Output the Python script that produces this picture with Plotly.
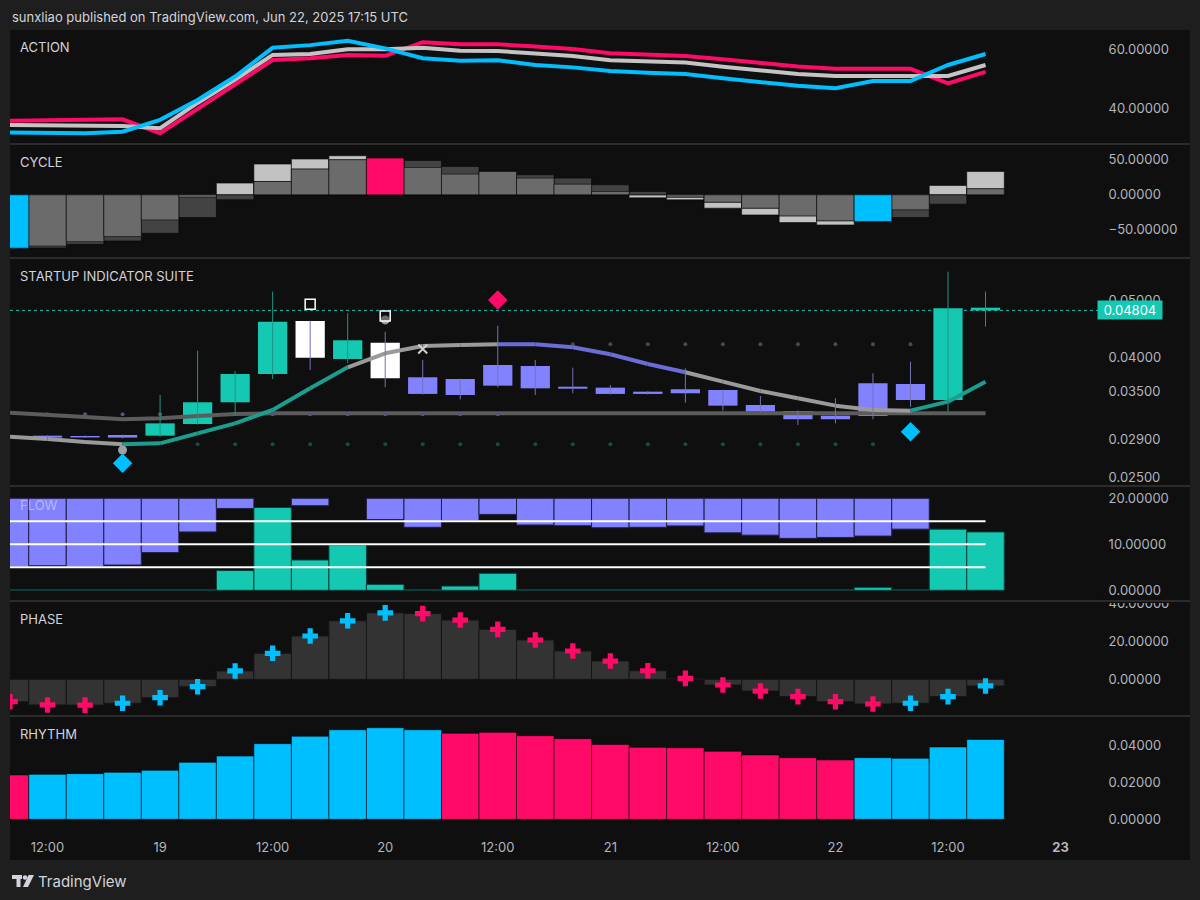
import math
from datetime import datetime, timedelta
import plotly.graph_objects as go

# ---------------- DATA ----------------
bar_times = [
    "2025-06-18 08:00", "2025-06-18 12:00", "2025-06-18 16:00", "2025-06-18 20:00",
    "2025-06-19 00:00", "2025-06-19 04:00", "2025-06-19 08:00", "2025-06-19 12:00",
    "2025-06-19 16:00", "2025-06-19 20:00", "2025-06-20 00:00", "2025-06-20 04:00",
    "2025-06-20 08:00", "2025-06-20 12:00", "2025-06-20 16:00", "2025-06-20 20:00",
    "2025-06-21 00:00", "2025-06-21 04:00", "2025-06-21 08:00", "2025-06-21 12:00",
    "2025-06-21 16:00", "2025-06-21 20:00", "2025-06-22 00:00", "2025-06-22 04:00",
    "2025-06-22 08:00", "2025-06-22 12:00", "2025-06-22 16:00",
]
tick_times = ["2025-06-18 12:00", "2025-06-19 00:00", "2025-06-19 12:00", "2025-06-20 00:00",
              "2025-06-20 12:00", "2025-06-21 00:00", "2025-06-21 12:00", "2025-06-22 00:00",
              "2025-06-22 12:00", "2025-06-23 00:00"]
tick_labels = ["12:00", "19", "12:00", "20", "12:00", "21", "12:00", "22", "12:00", "<b>23</b>"]

# ACTION pane
action_fast = [31.8, 31.7, 31.6, 32.1, 36.1, 42.8, 50.7, 60.4, 61.3, 62.8, 60.2, 56.9, 56.0, 56.2,
               54.6, 53.8, 52.6, 52.0, 51.6, 50.1, 48.9, 47.6, 46.8, 49.2, 49.2, 54.6, 58.3]
action_mid = [34.4, 34.2, 34.0, 34.0, 33.3, 41.8, 49.7, 58.0, 58.3, 59.9, 59.9, 60.4, 59.4, 59.3,
              58.5, 57.6, 56.2, 55.7, 55.4, 54.0, 52.8, 51.6, 50.9, 50.9, 50.9, 50.9, 54.6]
action_slow = [35.8, 35.9, 36.1, 36.3, 31.6, 39.8, 47.9, 56.3, 56.9, 58.0, 57.7, 62.3, 61.6, 61.6,
               60.8, 60.0, 58.6, 58.2, 57.6, 56.5, 55.3, 54.1, 53.3, 53.3, 53.3, 48.4, 52.3]
action_ticks = [40, 60]

# CYCLE pane
cycle_a = [-76, -73, -66.7, -59.5, -35.7, -3.5, 16.7, 43.8, 51, 55.7, 52.4, 39, 29.5, 33.3,
           23.8, 15.2, 4.8, -4.3, -7.1, -19, -28.6, -39.5, -42.9, -38, -21.4, 13.3, 33.3]
cycle_b = [-76, -75.7, -70.5, -65.7, -54.8, -32.4, -7, 19, 36.7, 50, 52.4, 49, 40.5, 33.3,
           28.6, 23.8, 14.3, 4.8, -3.3, -10.5, -19, -30, -37, -38, -32.4, -13.3, 8.6]
cycle_signal = [1, 0, 0, 0, 0, 0, 0, 0, 0, 0, -1, 0, 0, 0, 0, 0, 0, 0, 0, 0, 0, 0, 0, 1, 0, 0, 0]
cycle_ticks = [-50, 0, 50]

# STARTUP INDICATOR SUITE pane (price, log scale)
c_open = [0.02935, 0.02946, 0.02942, 0.02954, 0.02946, 0.03083, 0.03356, 0.03748, 0.04609,
          0.03974, 0.04235, 0.03700, 0.03675, 0.03882, 0.03867, 0.03566, 0.03553, 0.03498,
          0.03531, 0.03521, 0.03321, 0.03244, 0.03185, 0.03614, 0.03604, 0.03386, 0.04804]
c_high = [0.02940, 0.02950, 0.02948, 0.02958, 0.03453, 0.04105, 0.03790, 0.05168, 0.04615,
          0.04750, 0.04421, 0.03959, 0.03680, 0.04525, 0.03959, 0.03842, 0.03590, 0.03505,
          0.03832, 0.03525, 0.03439, 0.03248, 0.03409, 0.03758, 0.03932, 0.05587, 0.05168]
c_low = [0.02922, 0.02918, 0.02920, 0.02915, 0.02934, 0.03075, 0.03193, 0.03675, 0.03807,
         0.03912, 0.03558, 0.03460, 0.03395, 0.03558, 0.03453, 0.03476, 0.03460, 0.03460,
         0.03351, 0.03248, 0.03230, 0.03071, 0.03091, 0.03141, 0.03298, 0.03235, 0.04508]
c_close = [0.02928, 0.02924, 0.02926, 0.02924, 0.03091, 0.03356, 0.03748, 0.04597, 0.03994,
           0.04275, 0.03685, 0.03467, 0.03453, 0.03581, 0.03544, 0.03539, 0.03467, 0.03467,
           0.03476, 0.03312, 0.03235, 0.03141, 0.03141, 0.03181, 0.03386, 0.04844, 0.04855]
candle_state = ["bear", "bear", "bear", "bear", "bull", "bull", "bull", "bull", "flag", "bull",
                "flag", "bear", "bear", "bear", "bear", "bear", "bear", "bear", "bear", "bear",
                "bear", "bear", "bear", "bear", "bear", "bull", "bull"]
trend_line = [0.02934, 0.02908, 0.02874, 0.02848, 0.02859, 0.02973, 0.03091, 0.03257, 0.03544,
              0.03847, 0.04063, 0.04180, 0.04197, 0.04209, 0.04209, 0.04160, 0.04047, 0.03897,
              0.03773, 0.03637, 0.03507, 0.03409, 0.03312, 0.03257, 0.03248, 0.03364, 0.03637]
trend_state = [0, 0, 0, 0, 1, 1, 1, 1, 1, 1, 0, 0, 0, 0, -1, -1, -1, -1, -1, 0, 0, 0, 0, 0, 0, 1, 1]
base_line = [0.03222, 0.03200, 0.03170, 0.03141, 0.03153, 0.03181, 0.03205, 0.03215, 0.03215,
             0.03215, 0.03215, 0.03215, 0.03215, 0.03215, 0.03215, 0.03215, 0.03215, 0.03215,
             0.03215, 0.03215, 0.03215, 0.03215, 0.03215, 0.03215, 0.03215, 0.03215, 0.03215]
mid_dots_idx = [1, 2, 3, 4, 7, 8, 9, 10, 11, 12, 13]
mid_dots_level = 0.03202
upper_dots_idx = [15, 16, 17, 18, 19, 20, 21, 22, 23, 24]
upper_dots_level = 0.04209
lower_dots_idx = [5, 6, 7, 8, 9, 10, 11, 12, 13, 14, 15, 16, 17, 18, 19, 20, 21, 22, 23]
lower_dots_level = 0.02848
bull_diamond_idx = [3, 24]
bull_diamond_px = [0.02645, 0.02992]
bear_diamond_idx = [13]
bear_diamond_px = [0.05003]
square_idx = [8, 10]
square_px = [0.04920, 0.04700]
circle_idx = [3, 10]
circle_px = [0.02786, 0.04628]
xmark_idx = [11]
xmark_px = [0.04132]
last_price = 0.04804
price_ticks = [0.025, 0.029, 0.035, 0.04, 0.05]

# FLOW pane
flow_bull = [0.15, 0.15, 0.15, 0.15, 0.15, 0.15, 4.3, 18.0, 6.6, 9.85, 1.3, 0.15, 0.93, 3.7,
             0.15, 0.15, 0.15, 0.15, 0.15, 0.15, 0.15, 0.15, 0.15, 0.65, 0.15, 13.3, 12.7]
flow_bear = [14.9, 14.65, 14.9, 14.5, 11.8, 7.3, 2.2, 0, 1.6, 0, 4.6, 6.3, 4.9, 3.5,
             5.8, 5.95, 6.4, 6.3, 6.0, 7.5, 8.0, 8.7, 8.5, 8.2, 6.7, 0, 0]
flow_ceiling = 20
flow_levels = [15, 10, 5]
flow_ticks = [0, 10, 20]

# PHASE pane
phase_values = [-11.8, -13.5, -13.6, -12.6, -9.7, -3.9, 4.4, 13.7, 22.8, 30.8, 35.0, 34.6, 31.2,
                26.3, 20.7, 14.9, 9.6, 4.5, 0.5, -3.0, -6.2, -9.1, -11.8, -13.0, -12.6, -9.1, -3.5]
phase_ticks = [0, 20, 40]

# RHYTHM pane
rhythm_values = [0.0240, 0.0243, 0.0247, 0.0254, 0.0265, 0.0308, 0.0342, 0.0409, 0.0449, 0.0484,
                 0.0495, 0.0484, 0.0465, 0.0470, 0.0452, 0.0436, 0.0405, 0.0389, 0.0387, 0.0368,
                 0.0348, 0.0333, 0.0321, 0.0333, 0.0330, 0.0391, 0.0432]
rhythm_state = [-1, 1, 1, 1, 1, 1, 1, 1, 1, 1, 1, 1, -1, -1, -1, -1, -1, -1, -1, -1, -1, -1, -1,
                1, 1, 1, 1]
rhythm_ticks = [0.0, 0.02, 0.04]

# ---------------- STYLE / GEOMETRY ----------------
W, H = 1200, 900
ML, MR, MT, MB = 10, 100, 30, 40
PW, PH = W - ML - MR, H - MT - MB
FONT = "Inter"
TXT = "#d1d4dc"
AXT = "#b2b5be"
CYAN = "#00bfff"
PINK = "#ff0a68"
TEAL = "#14c8b2"
PURPLE = "#8282ff"
BG = "#0f0f0f"
OUTER = "#1e1e1e"


def px_x(px):
    return (px - ML) / PW


def px_y(py):
    return (H - MB - py) / PH


panes = [("ACTION", 30, 143), ("CYCLE", 145, 257), ("STARTUP INDICATOR SUITE", 259, 485),
         ("FLOW", 487, 600), ("PHASE", 602, 715), ("RHYTHM", 717, 831)]

PX_PER_HOUR = 9.38
t0 = datetime.strptime(bar_times[0], "%Y-%m-%d %H:%M")
x_left = t0
x_right = t0 + timedelta(hours=(W - MR - ML) / PX_PER_HOUR)
BAR_MS = 4 * 3600 * 1000
CANDLE_MS = BAR_MS * 0.78
N = len(bar_times)

fig = go.Figure()
common = dict(hoverinfo="skip", showlegend=False)

# ---- ACTION ----
for vals, col in [(action_slow, PINK), (action_mid, "#c4c4c4"), (action_fast, CYAN)]:
    fig.add_trace(go.Scatter(x=bar_times, y=vals, mode="lines", yaxis="y",
                             line=dict(color=col, width=4), **common))

# ---- CYCLE ----
overlap = [(a if abs(a) < abs(b) else b) if a * b > 0 else None for a, b in zip(cycle_a, cycle_b)]
bar_line = dict(color="rgba(0,0,0,0.55)", width=1)
fig.add_trace(go.Bar(x=bar_times, y=cycle_a, width=BAR_MS, yaxis="y2",
                     marker=dict(color="#c2c2c2", line=bar_line), **common))
fig.add_trace(go.Bar(x=bar_times, y=cycle_b, width=BAR_MS, yaxis="y2",
                     marker=dict(color="#434343", line=bar_line), **common))
fig.add_trace(go.Bar(x=bar_times, y=overlap, width=BAR_MS, yaxis="y2",
                     marker=dict(color="#6b6b6b", line=bar_line), **common))
hl_vals = [(a if abs(a) > abs(b) else b) if s != 0 else None
           for a, b, s in zip(cycle_a, cycle_b, cycle_signal)]
hl_cols = [CYAN if s > 0 else PINK for s in cycle_signal]
fig.add_trace(go.Bar(x=bar_times, y=hl_vals, width=BAR_MS, yaxis="y2",
                     marker=dict(color=hl_cols, line=bar_line), **common))

# ---- STARTUP INDICATOR SUITE ----
def dots(idx, level, color):
    fig.add_trace(go.Scatter(x=[bar_times[i] for i in idx], y=[level] * len(idx), mode="markers",
                             yaxis="y3", marker=dict(color=color, size=4), **common))


dots(upper_dots_idx, upper_dots_level, "#4a4a4a")
dots(lower_dots_idx, lower_dots_level, "#1d4a45")
fig.add_trace(go.Scatter(x=bar_times, y=base_line, mode="lines", yaxis="y3",
                         line=dict(color="#5c5c5c", width=4), **common))
dots(mid_dots_idx, mid_dots_level, "#55557a")

trend_colors = {0: "#9a9a9a", 1: "#1b9e8e", -1: "#6c6cd6"}
for st, col in trend_colors.items():
    xs, ys = [], []
    for i in range(1, N):
        if trend_state[i] == st:
            xs += [bar_times[i - 1], bar_times[i], None]
            ys += [trend_line[i - 1], trend_line[i], None]
    fig.add_trace(go.Scatter(x=xs, y=ys, mode="lines", yaxis="y3",
                             line=dict(color=col, width=4), **common))

fig.add_trace(go.Scatter(x=[x_left, x_right], y=[last_price, last_price], mode="lines", yaxis="y3",
                         line=dict(color=TEAL, width=1, dash="dot"), **common))

candle_colors = {"bull": (TEAL, "#1f9486"), "bear": (PURPLE, "#7373b8"), "flag": ("#ffffff", "#7373b8")}
for st, (body_col, wick_col) in candle_colors.items():
    idx = [i for i in range(N) if candle_state[i] == st]
    wx, wy = [], []
    for i in idx:
        wx += [bar_times[i], bar_times[i], None]
        wy += [c_low[i], c_high[i], None]
    fig.add_trace(go.Scatter(x=wx, y=wy, mode="lines", yaxis="y3",
                             line=dict(color=wick_col, width=1), **common))
    fig.add_trace(go.Bar(x=[bar_times[i] for i in idx],
                         y=[abs(c_close[i] - c_open[i]) for i in idx],
                         base=[min(c_open[i], c_close[i]) for i in idx],
                         width=CANDLE_MS, yaxis="y3",
                         marker=dict(color=body_col, line=dict(width=0)), **common))


def marks(idx, pxs, **mk):
    fig.add_trace(go.Scatter(x=[bar_times[i] for i in idx], y=pxs, mode="markers", yaxis="y3",
                             marker=mk, **common))


marks(circle_idx, circle_px, symbol="circle", size=9, color="#a0a0a0")
marks(square_idx, square_px, symbol="square", size=10, color="rgba(15,15,15,0.35)",
      line=dict(color="#ffffff", width=1.5))
marks(bull_diamond_idx, bull_diamond_px, symbol="diamond", size=15, color=CYAN)
marks(bear_diamond_idx, bear_diamond_px, symbol="diamond", size=15, color=PINK)
marks(xmark_idx, xmark_px, symbol="x-thin", size=9, color="#cfcfcf",
      line=dict(color="#cfcfcf", width=2))

# ---- FLOW ----
fig.add_trace(go.Bar(x=bar_times, y=[(-v if v > 0 else None) for v in flow_bear],
                     base=[flow_ceiling] * N, width=BAR_MS, yaxis="y4",
                     marker=dict(color=PURPLE, line=dict(color="#202048", width=1)), **common))
fig.add_trace(go.Bar(x=bar_times, y=flow_bull, width=BAR_MS, yaxis="y4",
                     marker=dict(color=TEAL, line=dict(color="#0b3f39", width=1)), **common))
for lv in flow_levels:
    fig.add_trace(go.Scatter(x=[bar_times[0], bar_times[-1]], y=[lv, lv], mode="lines", yaxis="y4",
                             line=dict(color="#ffffff", width=2), **common))

# ---- PHASE ----
fig.add_trace(go.Bar(x=bar_times, y=phase_values, width=BAR_MS, yaxis="y5",
                     marker=dict(color="#333333", line=dict(color="#161616", width=1)), **common))
phase_cols = [CYAN if (i > 0 and phase_values[i] > phase_values[i - 1]) else PINK for i in range(N)]
fig.add_trace(go.Scatter(x=bar_times, y=phase_values, mode="markers", yaxis="y5",
                         marker=dict(symbol="cross", size=13, color=phase_cols, line=dict(width=0)),
                         **common))

# ---- RHYTHM ----
fig.add_trace(go.Bar(x=bar_times, y=rhythm_values, width=BAR_MS, yaxis="y6",
                     marker=dict(color=[CYAN if s > 0 else PINK for s in rhythm_state],
                                 line=dict(color="rgba(0,0,0,0.55)", width=1)), **common))

# ---------------- LAYOUT ----------------
def yax(top, bot, rng, **kw):
    d = dict(domain=[px_y(bot), px_y(top)], range=rng, side="right", anchor="x",
             showgrid=False, zeroline=False, showline=False, ticks="outside", ticklen=5,
             tickcolor="rgba(0,0,0,0)", tickfont=dict(family=FONT, size=13, color=AXT),
             fixedrange=True)
    d.update(kw)
    return d


def fmt(vals):
    return [f"{v:.5f}".replace("-", "\u2212") for v in vals]


layout = dict(
    width=W, height=H, margin=dict(l=ML, r=MR, t=MT, b=MB),
    paper_bgcolor=OUTER, plot_bgcolor=BG, barmode="overlay", showlegend=False,
    hovermode=False, font=dict(family=FONT, color=TXT),
    xaxis=dict(type="date", range=[x_left, x_right], anchor="y6", showgrid=False,
               zeroline=False, showline=False, tickvals=tick_times, ticktext=tick_labels,
               ticks="outside", ticklen=4, tickcolor="rgba(0,0,0,0)",
               tickfont=dict(family=FONT, size=13, color=AXT), fixedrange=True),
    yaxis=yax(30, 143, [28.3, 66.4], tickvals=action_ticks, ticktext=fmt(action_ticks)),
    yaxis2=yax(145, 257, [-88.6, 71], tickvals=cycle_ticks, ticktext=fmt(cycle_ticks)),
    yaxis3=yax(259, 485, [-1.6144, -1.2313], type="log", tickvals=price_ticks,
               ticktext=fmt(price_ticks)),
    yaxis4=yax(487, 600, [-2.1, 22.46], tickvals=flow_ticks, ticktext=fmt(flow_ticks)),
    yaxis5=yax(602, 715, [-18.8, 40.7], tickvals=phase_ticks, ticktext=fmt(phase_ticks)),
    yaxis6=yax(717, 831, [-0.0063, 0.0553], tickvals=rhythm_ticks, ticktext=fmt(rhythm_ticks)),
)
fig.update_layout(**layout)

shapes = [dict(type="rect", xref="paper", yref="paper", x0=px_x(10), x1=px_x(1190),
               y0=px_y(860), y1=px_y(30), fillcolor=BG, line=dict(width=0), layer="below")]
for py in [144, 258, 486, 716]:
    shapes.append(dict(type="line", xref="paper", yref="paper", x0=px_x(10), x1=px_x(1190),
                       y0=px_y(py), y1=px_y(py), line=dict(color="#2b2b2b", width=2), layer="below"))
# the PHASE top label is cut by the pane border, as in the reference
shapes.append(dict(type="rect", xref="paper", yref="paper", x0=px_x(1100.5), x1=px_x(1190),
                   y0=px_y(603), y1=px_y(597), fillcolor=BG, line=dict(width=0), layer="above"))
shapes.append(dict(type="line", xref="paper", yref="paper", x0=px_x(10), x1=px_x(1190),
                   y0=px_y(601), y1=px_y(601), line=dict(color="#2b2b2b", width=2), layer="above"))
# TradingView logo
logo = "#d1d4dc"
shapes += [
    dict(type="rect", xref="paper", yref="paper", x0=px_x(12), x1=px_x(22), y0=px_y(879),
         y1=px_y(875), fillcolor=logo, line=dict(width=0)),
    dict(type="rect", xref="paper", yref="paper", x0=px_x(16.5), x1=px_x(20.5), y0=px_y(887),
         y1=px_y(875), fillcolor=logo, line=dict(width=0)),
    dict(type="circle", xref="paper", yref="paper", x0=px_x(22.8), x1=px_x(27.2), y0=px_y(879.7),
         y1=px_y(875.3), fillcolor=logo, line=dict(width=0)),
    dict(type="path", xref="paper", yref="paper",
         path=f"M {px_x(28.5)} {px_y(875)} L {px_x(34)} {px_y(875)} L {px_x(28)} {px_y(887)} "
              f"L {px_x(23)} {px_y(887)} Z", fillcolor=logo, line=dict(width=0)),
]
fig.update_layout(shapes=shapes)

ann = [dict(text="sunxliao published on TradingView.com, Jun 22, 2025 17:15 UTC", xref="paper",
            yref="paper", x=px_x(10), y=px_y(17), xanchor="left", yanchor="middle",
            showarrow=False, font=dict(family=FONT, size=13, color=TXT)),
       dict(text="TradingView", xref="paper", yref="paper", x=px_x(36), y=px_y(881),
            xanchor="left", yanchor="middle", showarrow=False,
            font=dict(family=FONT, size=15, color=TXT))]
label_y = {"ACTION": 47, "CYCLE": 162, "STARTUP INDICATOR SUITE": 276, "FLOW": 505,
           "PHASE": 619, "RHYTHM": 734}
for name, top, bot in panes:
    col = "rgba(235,235,255,0.5)" if name == "FLOW" else TXT
    ann.append(dict(text=name, xref="paper", yref="paper", x=px_x(18), y=px_y(label_y[name]),
                    xanchor="left", yanchor="middle", showarrow=False,
                    font=dict(family=FONT, size=13, color=col)))
ann.append(dict(text=f"{last_price:.5f}", xref="paper", yref="y3", x=px_x(1097),
                y=math.log10(last_price), xanchor="left", yanchor="middle", showarrow=False,
                width=60, height=14, align="center",
                bgcolor=TEAL, borderpad=2, font=dict(family=FONT, size=13, color="#ffffff")))
fig.update_layout(annotations=ann)

fig.write_html("out.html", config={"displayModeBar": False, "staticPlot": True},
               post_script="document.body.style.margin='0px';")
